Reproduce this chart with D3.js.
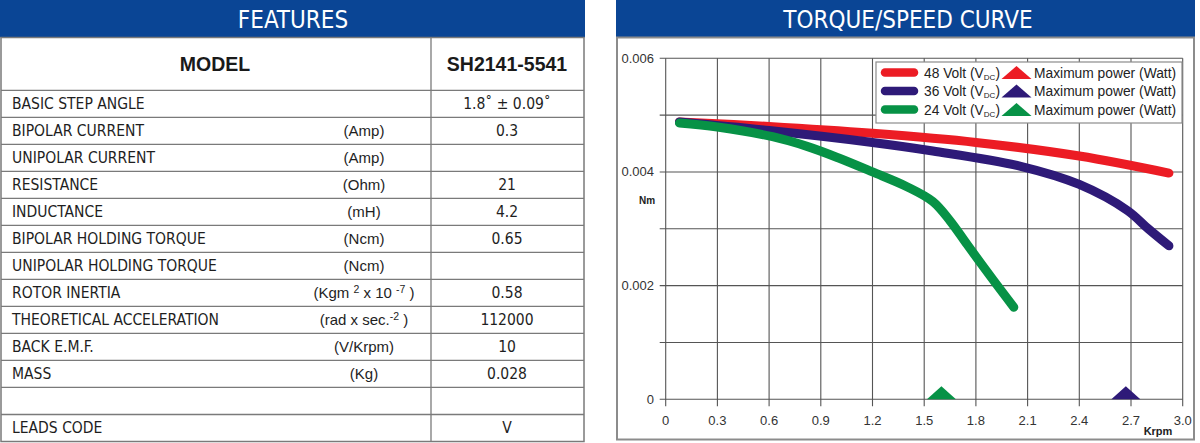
<!DOCTYPE html>
<html>
<head>
<meta charset="utf-8">
<script src="https://cdn.jsdelivr.net/npm/d3@7"></script>
<style>
  html, body { margin: 0; padding: 0; background: #fff; }
  svg { display: block; }
  .cond { font-family: "DejaVu Sans Condensed", "Liberation Sans Narrow", "DejaVu Sans", sans-serif; font-stretch: condensed; }
  .arial { font-family: "Liberation Sans", Arial, sans-serif; }
</style>
</head>
<body>
<div id="app"></div>
<script>
// --- table data ---
const features = ["BASIC STEP ANGLE", "BIPOLAR CURRENT", "UNIPOLAR CURRENT", "RESISTANCE", "INDUCTANCE",
  "BIPOLAR HOLDING TORQUE", "UNIPOLAR HOLDING TORQUE", "ROTOR INERTIA", "THEORETICAL ACCELERATION",
  "BACK E.M.F.", "MASS", "", "LEADS CODE"];
// {..} marks superscript
const units = ["", "(Amp)", "(Amp)", "(Ohm)", "(mH)", "(Ncm)", "(Ncm)", "(Kgm {2} x 10 {-7} )",
  "(rad x sec.{-2} )", "(V/Krpm)", "(Kg)", "", ""];
const values = ["1.8˚ ± 0.09˚", "0.3", "", "21", "4.2", "0.65", "", "0.58", "112000", "10", "0.028", "", "V"];
const modelName = "SH2141-5541";

// --- curve data: speed (Krpm) vs torque (Nm) ---
const speed48 = [0.08, 0.6, 1.2, 1.8, 2.4, 2.92];
const torque48 = [0.00488, 0.00480, 0.00468, 0.00452, 0.00428, 0.00398];
const speed36 = [0.08, 0.6, 1.2, 1.55, 2.06, 2.4, 2.68, 2.8, 2.92];
const torque36 = [0.00488, 0.00473, 0.00452, 0.00437, 0.00410, 0.00378, 0.00332, 0.00300, 0.00270];
const speed24 = [0.08, 0.3, 0.62, 0.82, 1.0, 1.2, 1.4, 1.55, 1.65, 1.75, 1.9, 2.02];
const torque24 = [0.00486, 0.00479, 0.00462, 0.00445, 0.00425, 0.00400, 0.00374, 0.00348, 0.00314, 0.00272, 0.00210, 0.00162];
// max power points (speed at zero torque)
const maxPower = [{ volt: "36", speed: 2.67 }, { volt: "24", speed: 1.60 }];

const xTickLabels = ["0", "0.3", "0.6", "0.9", "1.2", "1.5", "1.8", "2.1", "2.4", "2.7", "3.0"];
const yTickLabels = ["0", "0.002", "0.004", "0.006"];

const series = [
  { volt: "48", color: "#ec1c24", speed: speed48, torque: torque48 },
  { volt: "36", color: "#2e1a78", speed: speed36, torque: torque36 },
  { volt: "24", color: "#079246", speed: speed24, torque: torque24 },
];
const colorOf = v => series.find(s => s.volt === v).color;

const width = 1200, height = 443;
const blue = "#0a4595";

const svg = d3.select("#app").append("svg")
  .attr("width", width).attr("height", height);

// helper: text with {superscript} parts
function richText(sel, str, supSize) {
  let shift = 0;
  str.split(/(\{[^}]*\})/).filter(s => s.length).forEach(part => {
    if (part.startsWith("{")) {
      sel.append("tspan").attr("font-size", supSize).attr("dy", -5 - shift).text(part.slice(1, -1));
      shift = -5;
    } else {
      sel.append("tspan").attr("dy", -shift).text(part);
      shift = 0;
    }
  });
}

// ================= FEATURES TABLE =================
const tbl = svg.append("g");
const tLeft = 1, tRight = 584, colDiv = 431;

tbl.append("rect").attr("x", 0).attr("y", 0).attr("width", 585).attr("height", 37.5).attr("fill", blue);
tbl.append("text").attr("class", "cond")
  .attr("x", 293).attr("y", 27.5).attr("text-anchor", "middle")
  .attr("font-size", 24).attr("fill", "#fff").text("FEATURES");

const rowY = d3.scaleLinear().domain([0, features.length]).range([90.3, 441.5]);

// grid of table
tbl.append("rect").attr("x", tLeft).attr("y", 37.5).attr("width", tRight - tLeft).attr("height", rowY(features.length) - 37.5)
  .attr("fill", "none").attr("stroke", "#7a7a7a").attr("stroke-width", 1.5);
tbl.append("line").attr("x1", colDiv).attr("x2", colDiv).attr("y1", 37.5).attr("y2", rowY(features.length))
  .attr("stroke", "#7a7a7a").attr("stroke-width", 1.3);
tbl.selectAll("line.row").data(d3.range(features.length)).join("line").attr("class", "row")
  .attr("x1", tLeft).attr("x2", tRight)
  .attr("y1", i => rowY(i)).attr("y2", i => rowY(i))
  .attr("stroke", "#7a7a7a").attr("stroke-width", 1.3);

tbl.append("text").attr("class", "arial").attr("x", 215).attr("y", 71)
  .attr("text-anchor", "middle").attr("font-size", 19.5).attr("font-weight", "bold").attr("fill", "#1a1a1a").text("MODEL");
tbl.append("text").attr("class", "arial").attr("x", 507).attr("y", 71)
  .attr("text-anchor", "middle").attr("font-size", 19.5).attr("font-weight", "bold").attr("fill", "#1a1a1a").text(modelName);

const rows = tbl.selectAll("g.trow").data(features).join("g").attr("class", "trow")
  .attr("transform", (d, i) => `translate(0,${(rowY(i) + rowY(i + 1)) / 2 + 5.5})`);
rows.append("text").attr("class", "cond").attr("x", 12).attr("font-size", 15.5).attr("fill", "#1e1e1e").text(d => d);
rows.append("text").attr("class", "arial").attr("x", 364).attr("text-anchor", "middle")
  .attr("font-size", 15).attr("fill", "#1e1e1e")
  .each(function (d, i) { richText(d3.select(this), units[i], 10.5); });
rows.append("text").attr("class", "cond").attr("x", 507).attr("text-anchor", "middle")
  .attr("font-size", 15.5).attr("fill", "#1e1e1e").text((d, i) => values[i]);

// ================= TORQUE/SPEED CURVE =================
const ch = svg.append("g");
ch.append("rect").attr("x", 616).attr("y", 0).attr("width", 579).attr("height", 37.5).attr("fill", blue);
ch.append("text").attr("class", "cond")
  .attr("x", 908).attr("y", 27.5).attr("text-anchor", "middle")
  .attr("font-size", 24).attr("fill", "#fff").text("TORQUE/SPEED CURVE");
ch.append("rect").attr("x", 617).attr("y", 37.5).attr("width", 577).attr("height", 402)
  .attr("fill", "#fff").attr("stroke", "#8c8c8c").attr("stroke-width", 2);

const x = d3.scaleLinear().domain([0, 3]).range([665.7, 1182.7]);
const y = d3.scaleLinear().domain([0, 0.006]).range([399.3, 58.3]);

const xGrid = xTickLabels.map(Number);
const yGrid = d3.range(0, 7).map(i => i * 0.001);

const grid = ch.append("g").attr("stroke", "#555").attr("stroke-width", 1.1);
grid.selectAll("line.v").data(xGrid).join("line").attr("class", "v")
  .attr("x1", d => x(d)).attr("x2", d => x(d)).attr("y1", y(0.006)).attr("y2", y(0) + 7);
grid.selectAll("line.h").data(yGrid).join("line").attr("class", "h")
  .attr("x1", x(0) - 6).attr("x2", x(3)).attr("y1", d => y(d)).attr("y2", d => y(d));

ch.selectAll("text.xt").data(xTickLabels).join("text").attr("class", "xt arial")
  .attr("x", d => x(+d)).attr("y", 425).attr("text-anchor", "middle")
  .attr("font-size", 13).attr("fill", "#333").text(d => d);
ch.selectAll("text.yt").data(yTickLabels).join("text").attr("class", "yt arial")
  .attr("x", 654).attr("y", d => y(+d) + 4.5).attr("text-anchor", "end")
  .attr("font-size", 13).attr("fill", "#333").text(d => d);

ch.append("text").attr("class", "arial").attr("x", 647).attr("y", 204).attr("text-anchor", "middle")
  .attr("font-size", 10).attr("font-weight", "bold").attr("fill", "#222").text("Nm");
ch.append("text").attr("class", "arial").attr("x", 1158).attr("y", 435).attr("text-anchor", "middle")
  .attr("font-size", 11).attr("font-weight", "bold").attr("fill", "#222").text("Krpm");

const line = d3.line().x(d => x(d[0])).y(d => y(d[1])).curve(d3.curveCatmullRom.alpha(0.5));
ch.selectAll("path.curve").data(series).join("path").attr("class", "curve")
  .attr("d", s => line(s.speed.map((v, i) => [v, s.torque[i]])))
  .attr("fill", "none").attr("stroke", s => s.color).attr("stroke-width", 9)
  .attr("stroke-linecap", "round").attr("stroke-linejoin", "round");

const tri = (w, h) => `M${-w / 2},0L0,${-h}L${w / 2},0Z`;
ch.selectAll("path.mp").data(maxPower).join("path").attr("class", "mp")
  .attr("transform", d => `translate(${x(d.speed)},${y(0)})`)
  .attr("d", tri(29, 13)).attr("fill", d => colorOf(d.volt));

// legend
const lg = ch.append("g");
lg.append("rect").attr("x", 876).attr("y", 62).attr("width", 306).attr("height", 61)
  .attr("fill", "#fff").attr("stroke", "#8c8c8c").attr("stroke-width", 1.2);
const items = lg.selectAll("g").data(series).join("g")
  .attr("transform", (d, i) => `translate(0,${72.5 + i * 18.5})`);
items.append("line").attr("x1", 885).attr("x2", 914).attr("y1", 0).attr("y2", 0)
  .attr("stroke", d => d.color).attr("stroke-width", 8.5).attr("stroke-linecap", "round");
const lt = items.append("text").attr("class", "arial").attr("x", 924).attr("y", 5)
  .attr("font-size", 13.8).attr("fill", "#222");
lt.append("tspan").text(d => `${d.volt} Volt (V`);
lt.append("tspan").attr("font-size", 8).attr("dy", 2).text("DC");
lt.append("tspan").attr("dy", -2).text(")");
items.append("path").attr("transform", "translate(1016.5,6.5)").attr("d", tri(30, 13))
  .attr("fill", d => d.color);
items.append("text").attr("class", "arial").attr("x", 1034).attr("y", 5)
  .attr("font-size", 13.8).attr("fill", "#222").text("Maximum power (Watt)");
</script>
</body>
</html>
